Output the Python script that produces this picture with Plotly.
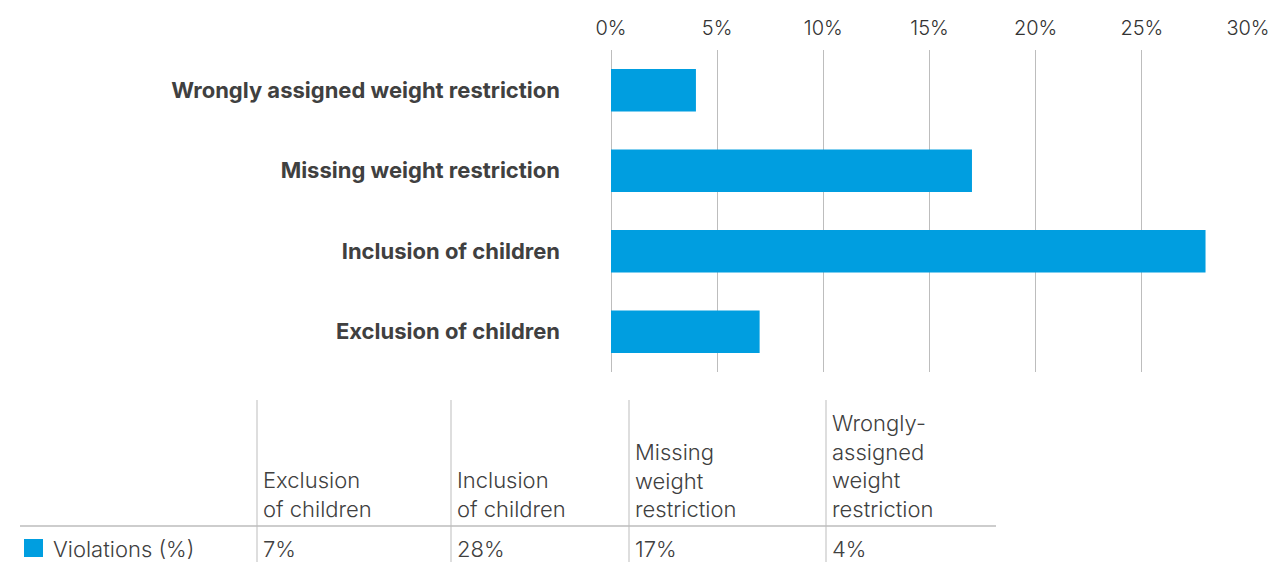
import plotly.graph_objects as go

# ---- data ----
categories = ["Exclusion of children", "Inclusion of children",
              "Missing weight restriction", "Wrongly assigned weight restriction"]
violations = [7, 28, 17, 4]
table_headers = ["Exclusion<br>of children", "Inclusion<br>of children",
                 "Missing<br>weight<br>restriction",
                 "Wrongly-<br>assigned<br>weight<br>restriction"]
series_name = "Violations (%)"
x_ticks = [0, 5, 10, 15, 20, 25, 30]
x_tick_labels = ["0%", "5%", "10%", "15%", "20%", "25%", "30%"]

BAR = "#009EE0"
GRID = "#bdbdbd"
TXT = "#404040"
FONT = "Inter"

W, H = 1271, 562
L, R, T, B = 611, 23, 50, 190
PW, PH = W - L - R, H - T - B


def px_x(p):
    return (p - L) / PW


def px_y(p):
    return (H - B - p) / PH


fig = go.Figure()
fig.add_trace(go.Bar(
    y=categories, x=violations, orientation="h",
    marker=dict(color=BAR, line=dict(width=0)),
    name=series_name, showlegend=False, hoverinfo="skip",
))

shapes = []
annotations = []

# table grid lines
col_x = [257, 451, 629, 826]
for cx in col_x:
    shapes.append(dict(type="line", xref="paper", yref="paper",
                       x0=px_x(cx), x1=px_x(cx), y0=px_y(400), y1=px_y(562),
                       line=dict(color=GRID, width=1)))
shapes.append(dict(type="line", xref="paper", yref="paper",
                   x0=px_x(20), x1=px_x(996), y0=px_y(526), y1=px_y(526),
                   line=dict(color=GRID, width=1.5)))
# legend swatch
shapes.append(dict(type="rect", xref="paper", yref="paper",
                   x0=px_x(24), x1=px_x(43), y0=px_y(557), y1=px_y(539),
                   fillcolor=BAR, line=dict(width=0)))

tfont = dict(family=FONT, size=22, color=TXT, weight=300)
annotations.append(dict(xref="paper", yref="paper", x=px_x(51), y=px_y(549),
                        xanchor="left", yanchor="middle", showarrow=False,
                        text=series_name, font=tfont))

for cx, head, val in zip(col_x, table_headers, violations):
    annotations.append(dict(xref="paper", yref="paper", x=px_x(cx + 4), y=px_y(524),
                            xanchor="left", yanchor="bottom", showarrow=False,
                            align="left", text=head, font=tfont))
    annotations.append(dict(xref="paper", yref="paper", x=px_x(cx + 4), y=px_y(549),
                            xanchor="left", yanchor="middle", showarrow=False,
                            text=f"{val}%", font=tfont))

fig.update_layout(
    width=W, height=H, autosize=False,
    margin=dict(l=L, r=R, t=T, b=B, pad=0, autoexpand=False),
    paper_bgcolor="white", plot_bgcolor="white",
    bargap=0.47,
    xaxis=dict(range=[0, 30], side="top", tickvals=x_ticks, ticktext=x_tick_labels,
               showgrid=True, gridcolor=GRID, gridwidth=1,
               zeroline=True, zerolinecolor=GRID, zerolinewidth=1,
               showline=False, ticks="", ticklabelstandoff=10, automargin=False,
               tickfont=dict(family=FONT, size=20, color="#333333", weight=300),
               fixedrange=True),
    yaxis=dict(showgrid=False, zeroline=False, showline=False, ticks="",
               ticklabelstandoff=50, automargin=False,
               tickfont=dict(family=FONT, size=22, color=TXT, weight="bold"),
               fixedrange=True),
    shapes=shapes, annotations=annotations,
)

fig.write_html(
    "out.html",
    config={"responsive": False, "displayModeBar": False},
    post_script=("document.documentElement.style.overflow='hidden';"
                 "document.body.style.overflow='hidden';"
                 "document.body.style.margin='0';document.body.style.padding='0';"),
)
